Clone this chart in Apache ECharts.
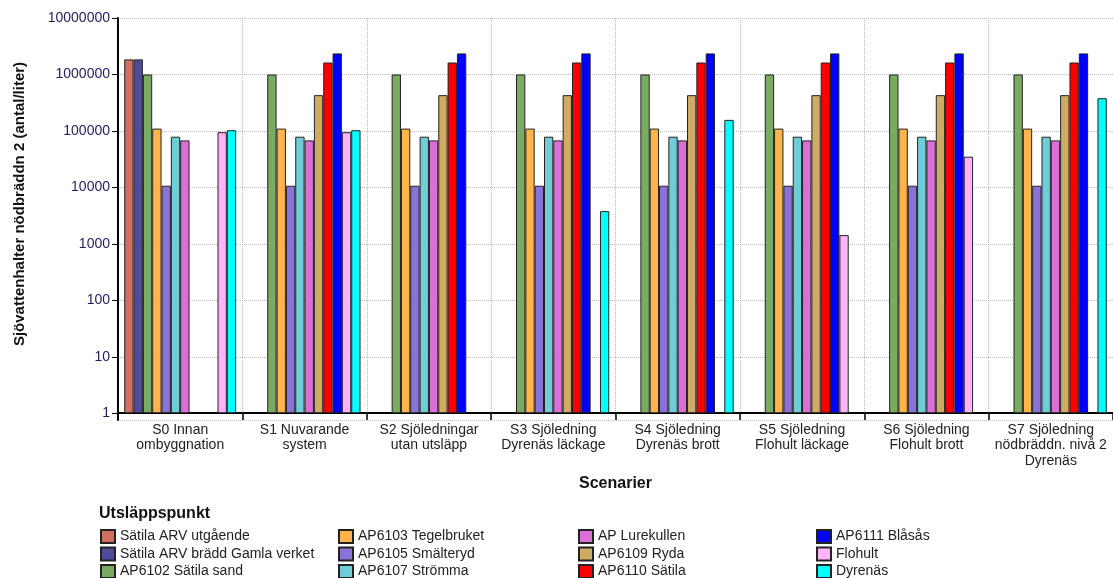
<!DOCTYPE html>
<html>
<head>
<meta charset="utf-8">
<script src="https://cdn.jsdelivr.net/npm/echarts@6/dist/echarts.min.js"></script>
<style>
html,body{margin:0;padding:0;background:#fff;}
#chart{width:1113px;height:578px;}
</style>
</head>
<body>
<div id="chart"></div>
<script>
const categories = [
  "S0 Innan\nombyggnation",
  "S1 Nuvarande\nsystem",
  "S2 Sjöledningar\nutan utsläpp",
  "S3 Sjöledning\nDyrenäs läckage",
  "S4 Sjöledning\nDyrenäs brott",
  "S5 Sjöledning\nFlohult läckage",
  "S6 Sjöledning\nFlohult brott",
  "S7 Sjöledning\nnödbräddn. nivå 2\nDyrenäs"
];
const yTickValues = [1, 10, 100, 1000, 10000, 100000, 1000000, 10000000];

const seriesNames = [
  "Sätila ARV utgående",
  "Sätila ARV brädd Gamla verket",
  "AP6102 Sätila sand",
  "AP6103 Tegelbruket",
  "AP6105 Smälteryd",
  "AP6107 Strömma",
  "AP Lurekullen",
  "AP6109 Ryda",
  "AP6110 Sätila",
  "AP6111 Blåsås",
  "Flohult",
  "Dyrenäs"
];
const seriesColors = [
  "#d1705f", "#4d4d9b", "#7aab62", "#ffb44c", "#8a72d8", "#6fcdd8",
  "#da6fd6", "#cfab63", "#ff0000", "#0000ff", "#ffb2f8", "#00ffff"
];

const satilaUtg      = [1850000, null, null, null, null, null, null, null];
const satilaBradd    = [1850000, null, null, null, null, null, null, null];
const ap6102         = [1000000, 1000000, 1000000, 1000000, 1000000, 1000000, 1000000, 1000000];
const ap6103         = [110000, 110000, 110000, 110000, 110000, 110000, 110000, 110000];
const ap6105         = [10700, 10700, 10700, 10700, 10700, 10700, 10700, 10700];
const ap6107         = [79000, 79000, 79000, 79000, 79000, 79000, 79000, 79000];
const apLurekullen   = [68000, 68000, 68000, 68000, 68000, 68000, 68000, 68000];
const ap6109         = [null, 430000, 430000, 430000, 430000, 430000, 430000, 430000];
const ap6110         = [null, 1630000, 1630000, 1630000, 1630000, 1630000, 1630000, 1630000];
const ap6111         = [null, 2360000, 2360000, 2360000, 2360000, 2360000, 2360000, 2360000];
const flohult        = [95000, 95000, null, null, null, 1430, 35000, null];
const dyrenas        = [103000, 103000, null, 3800, 157000, null, null, 380000];

const seriesData = [satilaUtg, satilaBradd, ap6102, ap6103, ap6105, ap6107,
  apLurekullen, ap6109, ap6110, ap6111, flohult, dyrenas];

const FONT = "Liberation Sans, Arial, sans-serif";

const series = seriesNames.map((name, i) => ({
  name: name,
  type: 'bar',
  data: seriesData[i],
  barGap: '0%',
  barCategoryGap: '10%',
  itemStyle: { color: seriesColors[i], borderColor: '#222', borderWidth: 1 }
}));

const legendLefts = [100, 338, 578, 816];
const legends = legendLefts.map((left, c) => ({
  orient: 'vertical',
  left: left,
  top: 529,
  width: 230,
  height: 80,
  padding: 0,
  itemWidth: 14,
  itemHeight: 13,
  itemGap: 2.5,
  icon: 'rect',
  selectedMode: false,
  textStyle: { fontFamily: FONT, fontSize: 14, color: '#222' },
  data: seriesNames.slice(c * 3, c * 3 + 3)
}));

const chart = echarts.init(document.getElementById('chart'), null, { renderer: 'canvas' });
chart.setOption({
  animation: false,
  backgroundColor: '#fff',
  title: {
    text: 'Utsläppspunkt',
    left: 99,
    top: 506,
    padding: 0,
    textStyle: { fontFamily: FONT, fontSize: 16, fontWeight: 'bold', color: '#111' }
  },
  legend: legends,
  grid: { left: 118, right: 0, top: 18, bottom: 158, containLabel: false },
  xAxis: {
    type: 'category',
    data: categories,
    offset: -7,
    axisLine: { lineStyle: { color: '#000', width: 2 } },
    axisTick: { show: true, length: 7, lineStyle: { color: '#000', width: 1.5 } },
    splitLine: { show: true, lineStyle: { color: '#bdbdbd', type: 'dotted', width: 1 } },
    axisLabel: { interval: 0, fontFamily: FONT, fontSize: 14, color: '#222', lineHeight: 15.5, margin: 9 },
    name: 'Scenarier',
    nameLocation: 'middle',
    nameGap: 63,
    nameTextStyle: { fontFamily: FONT, fontSize: 16, fontWeight: 'bold', color: '#111' }
  },
  yAxis: {
    type: 'log',
    logBase: 10,
    min: 0.76,
    max: 10000000,
    axisLine: { show: true, lineStyle: { color: '#000', width: 2 } },
    axisTick: { show: true, length: 6, lineStyle: { color: '#000', width: 1 } },
    splitLine: { show: true, lineStyle: { color: '#bdbdbd', type: 'dotted', width: 1 } },
    axisLabel: {
      showMinLabel: false,
      fontFamily: FONT, fontSize: 14, color: '#2a1a5e', margin: 8,
      formatter: function (v) {
        const r = Math.round(v);
        return yTickValues.indexOf(r) >= 0 ? String(r) : '';
      }
    },
    name: 'Sjövattenhalter nödbräddn 2 (antal/liter)',
    nameLocation: 'middle',
    nameGap: 91,
    nameTextStyle: { fontFamily: FONT, fontSize: 15, fontWeight: 'bold', color: '#111', padding: [0, 0, 0, 30] }
  },
  series: series
});
</script>
</body>
</html>
